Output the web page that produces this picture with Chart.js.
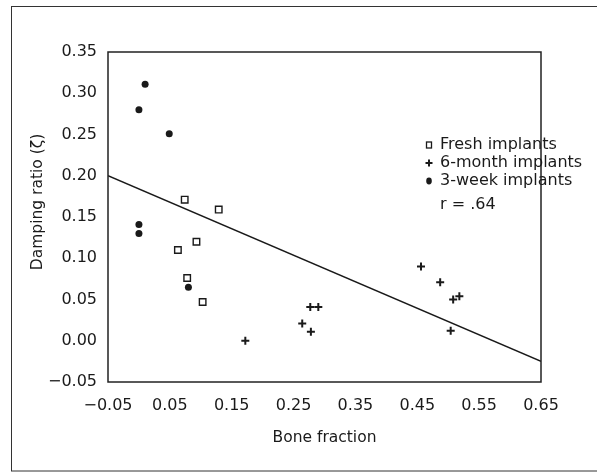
<!DOCTYPE html>
<html lang="en">
<head>
  <meta charset="UTF-8">
  <title>Damping ratio vs bone fraction</title>
  <style>
    body {
      margin: 0;
      background-color: #ffffff;
    }
  </style>
  <script src="https://cdn.jsdelivr.net/npm/chart.js"></script>
</head>
<body>
  <canvas id="dampingChart" width="597" height="472"></canvas>

  <script>
    // values
    const freshX = [0.074, 0.129, 0.093, 0.063, 0.078, 0.103];
    const freshY = [0.171, 0.159, 0.120, 0.110, 0.076, 0.047];

    const sixMonthX = [0.172, 0.264, 0.278, 0.277, 0.290, 0.456, 0.487, 0.508, 0.518, 0.504];
    const sixMonthY = [0.000, 0.021, 0.011, 0.041, 0.041, 0.090, 0.071, 0.050, 0.054, 0.012];

    const threeWeekX = [0.010, 0.000, 0.049, 0.000, 0.000, 0.080];
    const threeWeekY = [0.311, 0.280, 0.251, 0.141, 0.130, 0.065];

    const fitX = [-0.05, 0.65];
    const fitY = [0.20, -0.025];

    const xTicks = [-0.05, 0.05, 0.15, 0.25, 0.35, 0.45, 0.55, 0.65];
    const yTicks = [-0.05, 0.00, 0.05, 0.10, 0.15, 0.20, 0.25, 0.30, 0.35];

    const legendLabels = ['Fresh implants', '6-month implants', '3-week implants'];
    const rText = 'r = .64';
    const yTitle = 'Damping ratio (\u03B6)';

    const FONT = '"DejaVu Sans", sans-serif';
    const INK = '#1a1a1a';

    function toPoints(xs, ys) {
      return xs.map((x, i) => ({ x: x, y: ys[i] }));
    }

    function fmt(v) {
      return v.toFixed(2).replace('-', '\u2212');
    }

    // outer border, plot frame, y title and the legend inside the plot
    const framePlugin = {
      id: 'frame',
      beforeDraw(chart) {
        const ctx = chart.ctx;
        ctx.save();
        ctx.fillStyle = '#ffffff';
        ctx.fillRect(0, 0, chart.width, chart.height);
        ctx.strokeStyle = '#333333';
        ctx.lineWidth = 1;
        ctx.strokeRect(11.5, 6.5, 600, 464.5);
        ctx.restore();
      },
      afterDraw(chart) {
        const ctx = chart.ctx;
        const a = chart.chartArea;
        ctx.save();
        ctx.strokeStyle = '#222222';
        ctx.lineWidth = 1.5;
        ctx.strokeRect(a.left, a.top, a.right - a.left, a.bottom - a.top);

        ctx.fillStyle = INK;
        ctx.strokeStyle = INK;
        ctx.textBaseline = 'middle';

        // y axis title sits a bit above the middle in the original
        ctx.save();
        ctx.translate(38, 202);
        ctx.rotate(-Math.PI / 2);
        ctx.textAlign = 'center';
        ctx.font = '15.5px ' + FONT;
        ctx.fillText(yTitle, 0, 0);
        ctx.restore();

        // legend
        const mx = 429, tx = 440;
        const rows = [145, 163, 181];
        ctx.font = '16px ' + FONT;
        ctx.textAlign = 'left';
        legendLabels.forEach((label, i) => {
          ctx.fillText(label, tx, rows[i]);
        });
        ctx.lineWidth = 1.3;
        ctx.strokeRect(mx - 2.5, rows[0] - 3, 5, 6);
        ctx.lineWidth = 2;
        ctx.beginPath();
        ctx.moveTo(mx - 3.5, rows[1]);
        ctx.lineTo(mx + 3.5, rows[1]);
        ctx.moveTo(mx, rows[1] - 3.5);
        ctx.lineTo(mx, rows[1] + 3.5);
        ctx.stroke();
        ctx.beginPath();
        ctx.ellipse(mx, rows[2], 2.8, 3.4, 0, 0, Math.PI * 2);
        ctx.fill();
        ctx.fillText(rText, tx, 205);
        ctx.restore();
      }
    };

    new Chart(document.getElementById('dampingChart').getContext('2d'), {
      type: 'scatter',
      data: {
        datasets: [
          {
            label: legendLabels[0],
            data: toPoints(freshX, freshY),
            pointStyle: 'rect',
            pointRadius: 4.6,
            borderWidth: 1.4,
            borderColor: INK,
            backgroundColor: '#ffffff'
          },
          {
            label: legendLabels[1],
            data: toPoints(sixMonthX, sixMonthY),
            pointStyle: 'cross',
            pointRadius: 4,
            borderWidth: 2,
            borderColor: INK,
            backgroundColor: INK
          },
          {
            label: legendLabels[2],
            data: toPoints(threeWeekX, threeWeekY),
            pointStyle: 'circle',
            pointRadius: 3.5,
            borderWidth: 0,
            borderColor: INK,
            backgroundColor: INK
          },
          {
            label: 'fit',
            data: toPoints(fitX, fitY),
            showLine: true,
            pointRadius: 0,
            borderWidth: 1.5,
            borderColor: INK
          }
        ]
      },
      options: {
        responsive: false,
        animation: false,
        devicePixelRatio: 1,
        layout: { padding: { left: 20, top: 52, right: 56, bottom: 10 } },
        plugins: {
          legend: { display: false },
          tooltip: { enabled: false }
        },
        scales: {
          x: {
            type: 'linear',
            min: -0.05,
            max: 0.65,
            grid: { display: false, drawTicks: false },
            border: { display: false },
            afterBuildTicks(scale) { scale.ticks = xTicks.map(v => ({ value: v })); },
            afterFit(scale) { scale.height = 80; },
            ticks: {
              padding: 14,
              color: INK,
              font: { family: FONT, size: 16 },
              maxRotation: 0,
              callback: v => fmt(v)
            },
            title: {
              display: true,
              text: 'Bone fraction',
              color: INK,
              font: { family: FONT, size: 15.5 },
              padding: { top: 0, bottom: 15 }
            }
          },
          y: {
            type: 'linear',
            min: -0.05,
            max: 0.35,
            grid: { display: false, drawTicks: false },
            border: { display: false },
            afterBuildTicks(scale) { scale.ticks = yTicks.map(v => ({ value: v })); },
            afterFit(scale) { scale.width = 88; },
            ticks: {
              padding: 11,
              color: INK,
              font: { family: FONT, size: 16 },
              callback: v => fmt(v)
            }
          }
        }
      },
      plugins: [framePlugin]
    });
  </script>
</body>
</html>
